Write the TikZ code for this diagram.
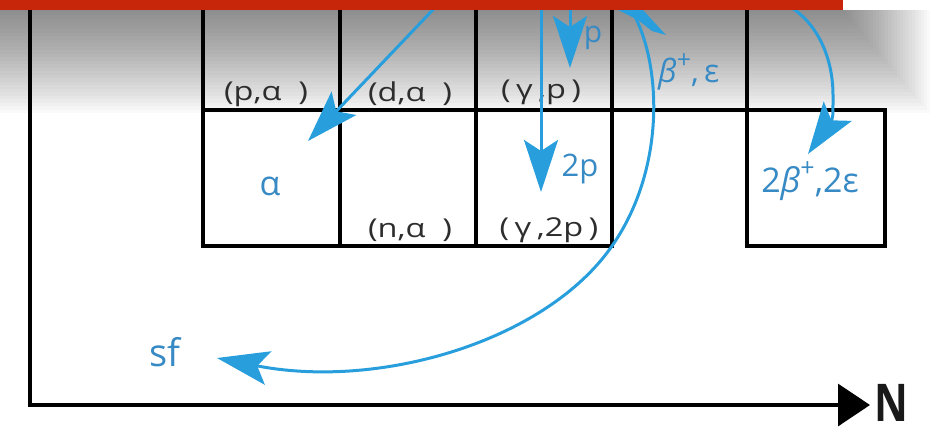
\documentclass[tikz,border=0pt]{standalone}
\usepackage{fontspec}
\setmainfont{Open Sans}
\usetikzlibrary{arrows.meta}
\definecolor{redbar}{RGB}{200,38,10}
\definecolor{bl}{RGB}{40,158,220}
\definecolor{bltxt}{RGB}{55,138,196}
\definecolor{ink}{RGB}{45,45,45}
\newcommand\lbl[1]{\scalebox{1.25}[1]{#1}}
\newcommand\plussup{\raisebox{0.45em}{\fontsize{25}{25}\selectfont +}}
\begin{document}
\begin{tikzpicture}[x=1pt,y=-1pt,
  grid/.style={draw=black, line width=3.4pt, line join=miter},
  arr/.style={draw=bl, line width=3pt, -{Stealth[length=52pt,width=34pt,inset=11pt]}},
  lab/.style={text=ink, font=\fontsize{26}{30}\selectfont, inner sep=0pt},
  blab/.style={text=bltxt, inner sep=0pt},
]
\useasboundingbox (0,0) rectangle (947,434);
% soft shadow under the red bar
\foreach \i in {1,...,30}
  \fill[black,opacity=0.021] (0,10) rectangle ({840+3*\i},{8+3.5*\i});

% grid of cells
\draw[grid] (203,-5) -- (203,246) -- (612,246) -- (612,-5);
\draw[grid] (340,-5) -- (340,246);
\draw[grid] (476,-5) -- (476,246);
\draw[grid] (747,-5) -- (747,246) -- (885,246) -- (885,110) -- (203,110);

% axes
\coordinate (ytop) at (30,-5);
\coordinate (O) at (30,405);
\coordinate (xend) at (870,405);
\draw[grid, -{Triangle[length=32pt,width=42pt]}] (ytop) -- (O) -- (xend);
\node[text=black!90, font=\fontsize{52}{54}\selectfont\bfseries, inner sep=0pt] (N) at (891,403) {\scalebox{0.8}[1]{N}};

% black reaction labels
\node[lab] (pa)  at (266,94)  {\lbl{(p,α\ \ )}};
\node[lab] (da)  at (410,94)  {\lbl{(d,α\ \ )}};
\node[lab] (gp)  at (541,92)  {\lbl{(\,γ\,,p\,)}};
\node[lab] (na)  at (410,230) {\lbl{(n,α\ \ )}};
\node[lab] (g2p) at (549,230) {\lbl{(\,γ\,,2p\,)}};

% blue labels
\node[blab, font=\fontsize{34}{36}\selectfont] (alpha) at (270,186) {α};
\node[blab, font=\fontsize{30}{32}\selectfont] (p1) at (593,38) {p};
\node[blab, font=\fontsize{31}{32}\selectfont] (p2) at (580,169) {2p};
\node[blab, font=\fontsize{32}{34}\selectfont, anchor=west] (bpe) at (658,72) {{\itshape β}\plussup,\,ε};
\node[blab, font=\fontsize{34}{36}\selectfont] (bbe) at (810,181) {2{\itshape β}\plussup,2ε};
\node[blab, font=\fontsize{38}{40}\selectfont] (sf) at (165,352) {sf};

% arrows
\coordinate (aS) at (446,-4);
\coordinate (aE) at (308,141);
\draw[arr] (aS) -- (aE);

\coordinate (pS) at (570,-4);
\coordinate (pE) at (570,68);
\draw[arr] (pS) -- (pE);

\coordinate (ppS) at (541,-4);
\coordinate (ppE) at (541,192);
\draw[arr] (ppS) -- (ppE);

\coordinate (sfS) at (622,-3);
\coordinate (sfM) at (612,246);
\coordinate (sfE) at (217,358);
\draw[arr] (sfS) .. controls (660,40) and (672,160) .. (sfM)
                 .. controls (546,341) and (380,390) .. (sfE);

\coordinate (bbS) at (783,3);
\coordinate (bbM) at (833,95);
\coordinate (bbE) at (808,154);
\draw[arr] (bbS) .. controls (815,18) and (833,55) .. (bbM)
                 .. controls (833,118) .. (bbE);

% partly hidden arrowhead under the bar
\fill[bl] (616,9) -- (642,9) -- (666,35) -- (652,31) -- (638,20) -- cycle;

% red bar on top
\fill[redbar] (0,0) rectangle (843,10);
\end{tikzpicture}
\end{document}
